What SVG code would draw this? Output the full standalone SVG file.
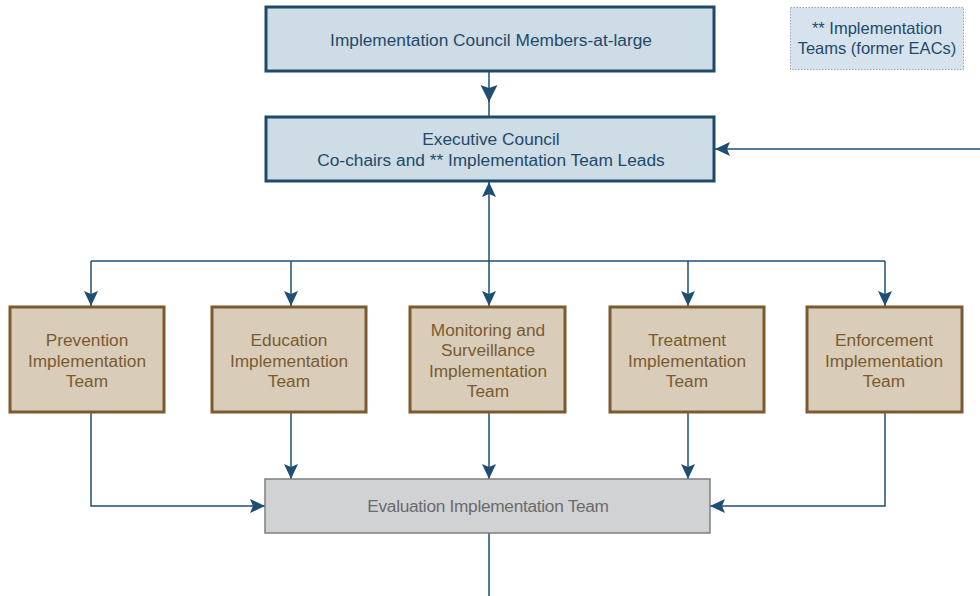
<svg xmlns="http://www.w3.org/2000/svg" width="980" height="596" viewBox="0 0 980 596">
<style>
.blue rect{fill:#cddce5;stroke:#1d4a68;stroke-width:3}
.blue text{fill:#1f4a6a}
.tan rect{fill:#d9cdb9;stroke:#7a5b30;stroke-width:3}
.tan text{fill:#7a5b30}
.gray rect{fill:#d1d2d4;stroke:#7e7f81;stroke-width:1.5}
.gray text{fill:#6a6b6d}
text{font-family:"Liberation Sans",Arial,sans-serif;font-size:17.3px;text-anchor:middle}
.conn path{fill:none;stroke:#1d4f73;stroke-width:1.5}
</style>
<defs>
<marker id="ah" markerUnits="userSpaceOnUse" markerWidth="15" markerHeight="15" viewBox="0 0 15 14" refX="15" refY="7" orient="auto">
<path d="M0,0 L15,7 L0,14 L3,7 Z" fill="#1d4f73"/>
</marker>
<marker id="ahb" markerUnits="userSpaceOnUse" markerWidth="17" markerHeight="17" viewBox="0 0 17 17" refX="17" refY="8.5" orient="auto">
<path d="M0,0 L17,8.5 L0,17 L3,8.5 Z" fill="#1d4f73"/>
</marker>
</defs>
<rect width="980" height="596" fill="#ffffff"/>
<g class="conn">
<path d="M489,71 V102" marker-end="url(#ahb)"/>
<path d="M489,100 V117"/>
<path d="M980,149 H715" marker-end="url(#ah)"/>
<path d="M489,240 V182" marker-end="url(#ah)"/>
<path d="M489,240 V306" marker-end="url(#ah)"/>
<path d="M91,261 H885"/>
<path d="M91,261 V306" marker-end="url(#ah)"/>
<path d="M291,261 V306" marker-end="url(#ah)"/>
<path d="M688,261 V306" marker-end="url(#ah)"/>
<path d="M885,261 V306" marker-end="url(#ah)"/>
<path d="M91,413 V506 H265" marker-end="url(#ah)"/>
<path d="M291,413 V479" marker-end="url(#ah)"/>
<path d="M489,413 V479" marker-end="url(#ah)"/>
<path d="M688,413 V479" marker-end="url(#ah)"/>
<path d="M885,413 V506 H710" marker-end="url(#ah)"/>
<path d="M489,533 V596"/>
</g>
<g id="members" class="blue">
<rect x="266" y="7" width="448" height="64"/>
<text x="491" y="46">Implementation Council Members-at-large</text>
</g>
<g id="exec" class="blue">
<rect x="266" y="117" width="448" height="64"/>
<text x="491" y="145">Executive Council</text>
<text x="491" y="166">Co-chairs and ** Implementation Team Leads</text>
</g>
<g id="legend">
<rect x="790.5" y="7.5" width="173" height="62" fill="#d6e3ee" stroke="#9aa7b3" stroke-width="1" stroke-dasharray="1.5,1.5"/>
<text x="877" y="34" fill="#1f4a6a" style="font-size:16.5px">** Implementation</text>
<text x="877" y="54" fill="#1f4a6a" style="font-size:16.5px">Teams (former EACs)</text>
</g>
<g id="prevention" class="tan">
<rect x="10" y="307" width="154" height="105"/>
<text x="87" y="346">Prevention</text>
<text x="87" y="367">Implementation</text>
<text x="87" y="387">Team</text>
</g>
<g id="education" class="tan">
<rect x="212" y="307" width="154" height="105"/>
<text x="289" y="346">Education</text>
<text x="289" y="367">Implementation</text>
<text x="289" y="387">Team</text>
</g>
<g id="monitoring" class="tan">
<rect x="410" y="307" width="155" height="105"/>
<text x="488" y="336">Monitoring and</text>
<text x="488" y="356">Surveillance</text>
<text x="488" y="377">Implementation</text>
<text x="488" y="397">Team</text>
</g>
<g id="treatment" class="tan">
<rect x="610" y="307" width="154" height="105"/>
<text x="687" y="346">Treatment</text>
<text x="687" y="367">Implementation</text>
<text x="687" y="387">Team</text>
</g>
<g id="enforcement" class="tan">
<rect x="807" y="307" width="155" height="105"/>
<text x="884" y="346">Enforcement</text>
<text x="884" y="367">Implementation</text>
<text x="884" y="387">Team</text>
</g>
<g id="evaluation" class="gray">
<rect x="265" y="479" width="445" height="54"/>
<text x="488" y="512" style="letter-spacing:-0.3px">Evaluation Implementation Team</text>
</g>
</svg>
